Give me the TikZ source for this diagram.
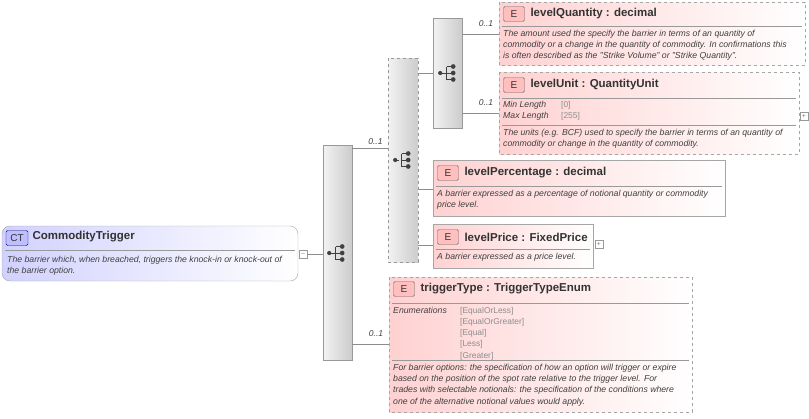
\documentclass[tikz,border=0pt]{standalone}
\usepackage{fontspec}
\setmainfont{Liberation Sans}
\usetikzlibrary{calc}
\begin{document}
\begin{tikzpicture}[x=1pt,y=-1pt,
  el/.style={draw=black!35,left color=red!18,right color=white,inner sep=0},
  eldash/.style={el,dashed},
  seq/.style={draw=black!40,left color=black!5,right color=black!20,inner sep=0},
  conn/.style={draw=black!45,line width=0.6pt},
  card/.style={font=\fontsize{8.5}{9}\selectfont\itshape,text=black!75},
  hd/.style={font=\fontsize{11.5}{13}\selectfont\bfseries,text=black!80,anchor=west},
  ds/.style={font=\fontsize{8.7}{11.2}\selectfont\itshape,text=black!75,anchor=north west,align=left,inner sep=0},
  en/.style={ds,font=\fontsize{8.4}{11.2}\selectfont,text=black!45},
  badge/.style={draw=black!60,fill=red!25,rounded corners=1.5pt,minimum width=21pt,minimum height=15pt,inner sep=0,font=\fontsize{10}{11}\selectfont,text=black!80},
  sep/.style={draw=black!40},
  pm/.style={draw=black!40,fill=white,minimum size=8pt,inner sep=0,font=\fontsize{7}{7}\selectfont,text=black!50}]
\useasboundingbox (0,0) rectangle (809,418);
\newcommand{\seqicon}[1]{%
  \begin{scope}[shift={(#1)},scale=1.3]
  \fill[black!75] (-6,0) circle(1.6);
  \draw[black!75,line width=1pt] (-6,0)--(-1,0) (-1,-5)--(-1,5) (-1,-5)--(3,-5) (-1,0)--(3,0) (-1,5)--(3,5);
  \fill[black!75] (4,-5) circle(1.8) (4,0) circle(1.8) (4,5) circle(1.8);
  \end{scope}}
\newcommand{\choiceicon}[1]{%
  \begin{scope}[shift={(#1)},scale=1.3]
  \fill[black!75] (-6,0) circle(1.6);
  \draw[black!75,line width=1pt] (-6,0)--(-3,0) (-1,-5)--(-1,5) (-1,-5)--(3,-5) (-1,0)--(3,0) (-1,5)--(3,5);
  \fill[black!75] (4,-5) circle(1.8) (4,0) circle(1.8) (4,5) circle(1.8);
  \end{scope}}
% CT
\path[draw=black!35,left color=blue!18,right color=white,rounded corners=8pt] (2,226) rectangle (298,281);
\draw[sep] (5,250) -- (295,250);
\node[badge,draw=blue!50!black,fill=blue!25,minimum width=22pt] (ctb) at (17,238) {CT};
\node[hd] (ct) at (29,237) {CommodityTrigger};
\node[ds] at (7,256) {The barrier which, when breached, triggers the knock-in or knock-out of\\the barrier option.};
\node[pm] (ctm) at (303,254) {--};
% sequences and choice
\path[seq] (323,145) rectangle (352,360); \coordinate (s1) at (337,253);
\path[seq,dashed] (388,58) rectangle (418,262); \coordinate (ch) at (403,160);
\path[seq] (433,18) rectangle (462,128); \coordinate (s2) at (448,73);
% levelQuantity
\path[eldash] (499,2) rectangle (805,65);
\draw[sep] (502,26)--(802,26);
\node[badge] at (514,14) {E};
\node[hd] at (527,14) {levelQuantity : decimal};
\node[ds] at (503,30) {The amount used the specify the barrier in terms of an quantity of\\commodity or a change in the quantity of commodity. In confirmations this\\is often described as the "Strike Volume" or "Strike Quantity".};
% levelUnit
\path[eldash] (499,72) rectangle (799,154);
\draw[sep] (502,98)--(796,98) (502,125)--(796,125);
\node[badge] at (514,85) {E};
\node[hd] at (527,85) {levelUnit : QuantityUnit};
\node[ds] at (503,101) {Min Length\\Max Length};
\node[en] at (561,101) {{[}0{]}\\{[}255{]}};
\node[ds] at (503,129) {The units (e.g. BCF) used to specify the barrier in terms of an quantity of\\commodity or change in the quantity of commodity.};
\node[pm] at (804,116) {+};
% levelPercentage
\path[el] (433,160) rectangle (725,216);
\draw[sep] (436,186)--(722,186);
\node[badge] at (448,173) {E};
\node[hd] at (461,173) {levelPercentage : decimal};
\node[ds] at (437,190) {A barrier expressed as a percentage of notional quantity or commodity\\price level.};
% levelPrice
\path[el] (433,224) rectangle (593,268);
\draw[sep] (436,249)--(590,249);
\node[badge] at (448,237) {E};
\node[hd] at (461,237) {levelPrice : FixedPrice};
\node[ds] at (437,253) {A barrier expressed as a price level.};
\node[pm] at (599,244) {+};
% triggerType
\path[eldash] (389,277) rectangle (692,412);
\draw[sep] (392,303)--(689,303) (392,360)--(689,360);
\node[badge] at (404,289) {E};
\node[hd] at (417,289) {triggerType : TriggerTypeEnum};
\node[ds] at (393,307) {Enumerations};
\node[en] at (460,307) {{[}EqualOrLess{]}\\{[}EqualOrGreater{]}\\{[}Equal{]}\\{[}Less{]}\\{[}Greater{]}};
\node[ds] at (393,364) {For barrier options: the specification of how an option will trigger or expire\\based on the position of the spot rate relative to the trigger level. For\\trades with selectable notionals: the specification of the conditions where\\one of the alternative notional values would apply.};
% connectors
\draw[conn] (307,254)--(323,254);
\draw[conn] (352,148)--(388,148) node[card,pos=0.65,above] {0..1};
\draw[conn] (352,344)--(389,344) node[card,pos=0.65,above=4pt] {0..1};
\draw[conn] (418,73)--(433,73);
\draw[conn] (418,189)--(433,189);
\draw[conn] (418,245)--(433,245);
\draw[conn] (462,34)--(499,34) node[card,pos=0.65,above=4pt] {0..1};
\draw[conn] (462,113)--(499,113) node[card,pos=0.65,above=4pt] {0..1};
\seqicon{s1} \choiceicon{ch} \seqicon{s2}
\end{tikzpicture}
\end{document}
